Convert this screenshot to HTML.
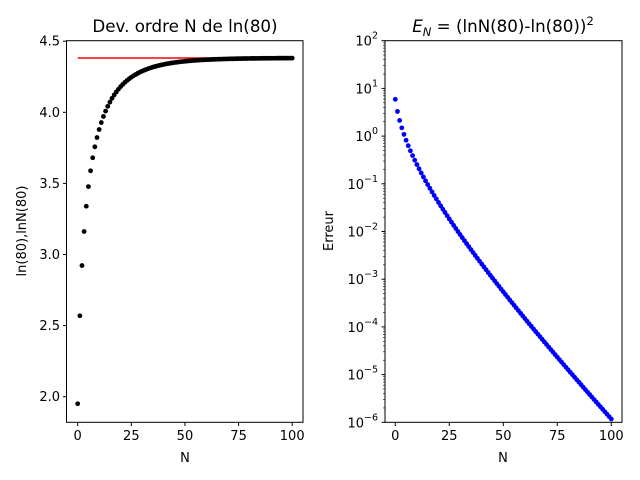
<!DOCTYPE html>
<html><head><meta charset="utf-8"><style>
html,body{margin:0;padding:0;background:#fff}
svg{display:block}
text{font-family:"DejaVu Sans","Liberation Sans",sans-serif;fill:#000}
</style></head><body>
<svg id="s" width="640" height="480" viewBox="0 0 640 480" xmlns="http://www.w3.org/2000/svg">
<rect width="640" height="480" fill="#fff"/>
<text x="185" y="32" font-size="16.7" text-anchor="middle">Dev. ordre N de ln(80)</text>
<text x="503" y="32" font-size="16.7" text-anchor="middle"><tspan font-style="italic">E</tspan><tspan font-style="italic" font-size="11.5" dy="4">N</tspan><tspan dy="-4"> = (lnN(80)-ln(80))</tspan><tspan font-size="11.5" dy="-7">2</tspan></text>
<text x="185" y="462" font-size="13" text-anchor="middle">N</text>
<text x="503" y="462" font-size="13" text-anchor="middle">N</text>
<text transform="translate(26,231) rotate(-90)" font-size="13" text-anchor="middle">ln(80),lnN(80)</text>
<text transform="translate(333,231) rotate(-90)" font-size="13" text-anchor="middle">Erreur</text>
<g id="g"></g>
</svg>
<script>
var g=document.getElementById('g'),h='';
var L=Math.log(80),y=79/81,S=[],s=0;
for(var k=0;k<=100;k++){s+=2*Math.pow(y,2*k+1)/(2*k+1);S.push(s);}
var lx=function(n){return 77.7+n*2.145}, ly=function(v){return 396.7-(v-2)*142.2};
h+='<line x1="'+lx(0)+'" y1="'+ly(L)+'" x2="'+lx(100)+'" y2="'+ly(L)+'" stroke="#f00" stroke-width="1.5"/>';
for(var k=0;k<=100;k++)h+='<circle cx="'+lx(k)+'" cy="'+ly(S[k])+'" r="2.4" fill="#000"/>';
h+='<rect x="66.5" y="40.7" width="236.5" height="381.6" fill="none" stroke="#000" stroke-width="1"/>';
for(var t=0;t<=100;t+=25){var X=lx(t);h+='<line x1="'+X+'" y1="422.3" x2="'+X+'" y2="426" stroke="#000"/><text x="'+X+'" y="440" font-size="13" text-anchor="middle">'+t+'</text>';}
for(var v=2;v<=4.5;v+=0.5){var Y=ly(v);h+='<line x1="63" y1="'+Y+'" x2="66.5" y2="'+Y+'" stroke="#000"/><text x="60" y="'+(Y+4.5)+'" font-size="13" text-anchor="end">'+v.toFixed(1)+'</text>';}
var rx=function(n){return 395.3+n*2.16}, ry=function(e){return 40.7+(2-Math.log10(e))*47.7};
for(var k=0;k<=100;k++){var e=Math.pow(L-S[k],2);h+='<circle cx="'+rx(k)+'" cy="'+ry(e)+'" r="2.4" fill="#00f"/>';}
h+='<rect x="385" y="40.7" width="237" height="381.6" fill="none" stroke="#000" stroke-width="1"/>';
for(var t=0;t<=100;t+=25){var X=rx(t);h+='<line x1="'+X+'" y1="422.3" x2="'+X+'" y2="426" stroke="#000"/><text x="'+X+'" y="440" font-size="13" text-anchor="middle">'+t+'</text>';}
for(var p=-6;p<=2;p++){var Y=ry(Math.pow(10,p));h+='<line x1="381.5" y1="'+Y+'" x2="385" y2="'+Y+'" stroke="#000"/><text x="378" y="'+(Y+5)+'" font-size="13" text-anchor="end">10<tspan font-size="9.5" dy="-7">'+(p<0?'\u2212'+(-p):p)+'</tspan></text>';
 if(p<2)for(var m=2;m<=9;m++){var Ym=ry(m*Math.pow(10,p));h+='<line x1="383" y1="'+Ym+'" x2="385" y2="'+Ym+'" stroke="#000" stroke-width="0.6"/>';}}
g.innerHTML=h;
</script>
</body></html>
